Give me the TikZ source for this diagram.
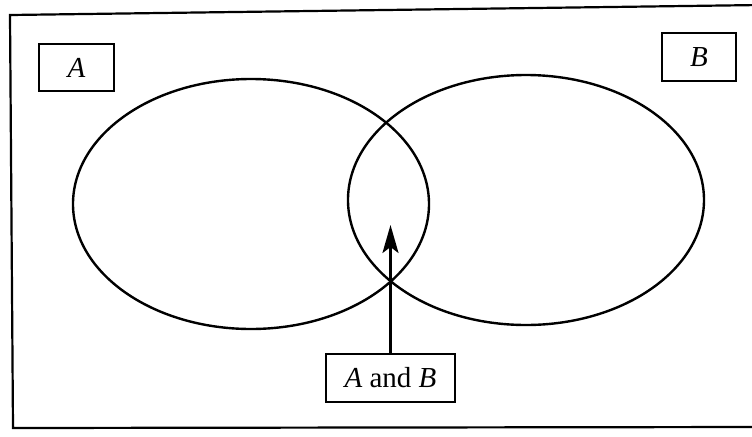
\documentclass[tikz,border=0pt]{standalone}
\usepackage{fontspec}
\setmainfont{Liberation Serif}
\usetikzlibrary{arrows.meta}
\begin{document}
\begin{tikzpicture}[x=0.5pt,y=-0.5pt,line cap=round,
  label box/.style={draw,line width=1pt,inner sep=0pt,font=\fontsize{14.5}{16}\selectfont}]
\useasboundingbox (0,0) rectangle (752,436);
% frame
\draw[line width=1.1pt] (760,5) -- (10,15) -- (13,428) -- (760,427);
% sets
\draw[line width=1.2pt] (251,204) ellipse [x radius=178, y radius=125];
\draw[line width=1.2pt] (526,200) ellipse [x radius=178, y radius=125];
% labels
\node[label box,minimum width=37.5pt,minimum height=23.5pt] (boxA) at (76.5,67.5) {\textit{A}};
\node[label box,minimum width=37pt,minimum height=24pt] (boxB) at (699,57) {\textit{B}};
\node[label box,minimum width=64.5pt,minimum height=24pt] (boxAB) at (390.5,378) {\textit{A} and \textit{B}};
% arrow to the overlap
\coordinate (tip) at (390.5,225);
\draw[line width=1.2pt,-{Stealth[length=14pt,width=8pt,inset=3pt]}] (boxAB.north) -- (tip);
\end{tikzpicture}
\end{document}
